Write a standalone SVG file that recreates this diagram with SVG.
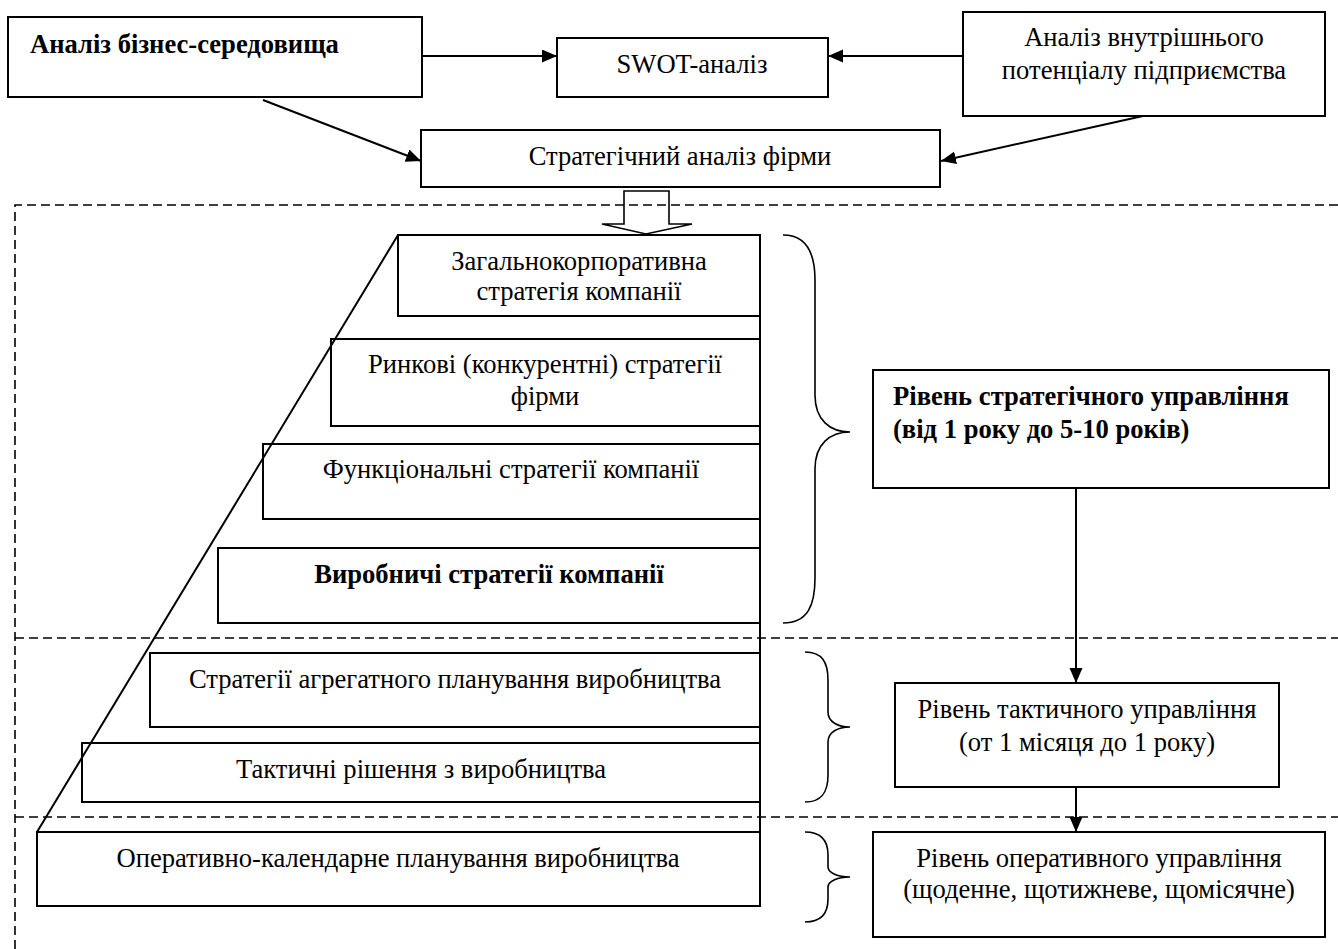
<svg xmlns="http://www.w3.org/2000/svg" width="1338" height="949" viewBox="0 0 1338 949">
<style>
.box{fill:none;stroke:#000;stroke-width:2}
.t{font-family:"Liberation Serif","Times New Roman",serif;font-size:26.6px;fill:#000}
.b{font-weight:bold}
.m{text-anchor:middle}
.c{stroke:#000;stroke-width:2;fill:none}
.dash{stroke:#000;stroke-width:1.6;fill:none;stroke-dasharray:9,5}
.brace{stroke:#000;stroke-width:1.6;fill:none}
</style>
<defs>
<marker id="ah" markerWidth="16" markerHeight="14" refX="15" refY="6.5" orient="auto" markerUnits="userSpaceOnUse">
<path d="M0,0 L15,6.5 L0,13 z" fill="#000"/>
</marker>
</defs>
<rect width="1338" height="949" fill="#fff"/>

<g id="business-env">
<rect class="box" x="8" y="17" width="414" height="80"/>
<text class="t b" x="30" y="53">Аналіз бізнес-середовища</text>
</g>
<g id="swot">
<rect class="box" x="557" y="38" width="271" height="59"/>
<text class="t m" x="692" y="73">SWOT-аналіз</text>
</g>
<g id="internal">
<rect class="box" x="963" y="12" width="362" height="104"/>
<text class="t m" x="1144" y="46">Аналіз внутрішнього</text>
<text class="t m" x="1144" y="79">потенціалу підприємства</text>
</g>
<g id="strategic-analysis">
<rect class="box" x="421" y="130" width="519" height="57"/>
<text class="t m" x="680" y="165">Стратегічний аналіз фірми</text>
</g>

<g id="pyramid">
<line class="c" x1="398" y1="235" x2="37" y2="832" stroke-width="1.6"/>
<line class="c" x1="760" y1="235" x2="760" y2="906"/>
</g>
<g id="corporate">
<rect class="box" x="398" y="235" width="362" height="81"/>
<text class="t m" x="579" y="270">Загальнокорпоративна</text>
<text class="t m" x="579" y="300">стратегія компанії</text>
</g>
<g id="market">
<rect class="box" x="331" y="339" width="429" height="87"/>
<text class="t m" x="545" y="373">Ринкові (конкурентні) стратегії</text>
<text class="t m" x="545" y="405">фірми</text>
</g>
<g id="functional">
<rect class="box" x="263" y="444" width="497" height="75"/>
<text class="t m" x="511" y="478">Функціональні стратегії компанії</text>
</g>
<g id="production">
<rect class="box" x="218" y="548" width="542" height="75"/>
<text class="t m b" x="489" y="583">Виробничі стратегії компанії</text>
</g>
<g id="aggregate">
<rect class="box" x="150" y="653" width="610" height="74"/>
<text class="t m" x="455" y="688">Стратегії агрегатного планування виробництва</text>
</g>
<g id="tactical-decisions">
<rect class="box" x="82" y="743" width="678" height="59"/>
<text class="t m" x="421" y="778">Тактичні рішення з виробництва</text>
</g>
<g id="operational-planning">
<rect class="box" x="37" y="832" width="723" height="74"/>
<text class="t m" x="398" y="867">Оперативно-календарне планування виробництва</text>
</g>

<g id="strategic-level">
<rect class="box" x="873" y="370" width="456" height="118"/>
<text class="t b" x="893" y="405">Рівень стратегічного управління</text>
<text class="t b" x="893" y="438">(від 1 року до 5-10 років)</text>
</g>
<g id="tactical-level">
<rect class="box" x="895" y="683" width="384" height="104"/>
<text class="t m" x="1087" y="718">Рівень тактичного управління</text>
<text class="t m" x="1087" y="751">(от 1 місяця до 1 року)</text>
</g>
<g id="operational-level">
<rect class="box" x="873" y="832" width="452" height="105"/>
<text class="t m" x="1099" y="867">Рівень оперативного управління</text>
<text class="t m" x="1099" y="898">(щоденне, щотижневе, щомісячне)</text>
</g>

<g id="braces">
<path class="brace" d="M783,235 C808,235 815,255 815,280 L815,395 C815,420 830,432 850,432 C830,432 815,444 815,469 L815,578 C815,605 808,623 783,623"/>
<path class="brace" d="M805,652 C822,652 828,662 828,680 L828,712 C828,722 838,727 850,727 C838,727 828,732 828,742 L828,775 C828,792 822,802 805,802"/>
<path class="brace" d="M805,832 C822,832 828,842 828,855 L828,867 C828,873 838,877 850,877 C838,877 828,881 828,887 L828,899 C828,912 822,922 805,922"/>
</g>

<g id="connectors">
<polygon points="624,191 669,191 669,224 692,224 646,234 602,224 624,224" fill="#fff" stroke="#000" stroke-width="1.6"/>
<line class="c" x1="422" y1="56" x2="557" y2="56" marker-end="url(#ah)"/>
<line class="c" x1="963" y1="56" x2="828" y2="56" marker-end="url(#ah)"/>
<line class="c" x1="263" y1="100" x2="421" y2="161" marker-end="url(#ah)"/>
<line class="c" x1="1143" y1="116" x2="941" y2="161" marker-end="url(#ah)"/>
<line class="c" x1="1076" y1="488" x2="1076" y2="683" marker-end="url(#ah)"/>
<line class="c" x1="1076" y1="787" x2="1076" y2="832" marker-end="url(#ah)"/>
</g>

<g id="zones">
<path class="dash" d="M1338,205 L15,205 L15,949"/>
<line class="dash" x1="15" y1="638" x2="1338" y2="638"/>
<line class="dash" x1="15" y1="817" x2="1338" y2="817"/>
</g>
</svg>
